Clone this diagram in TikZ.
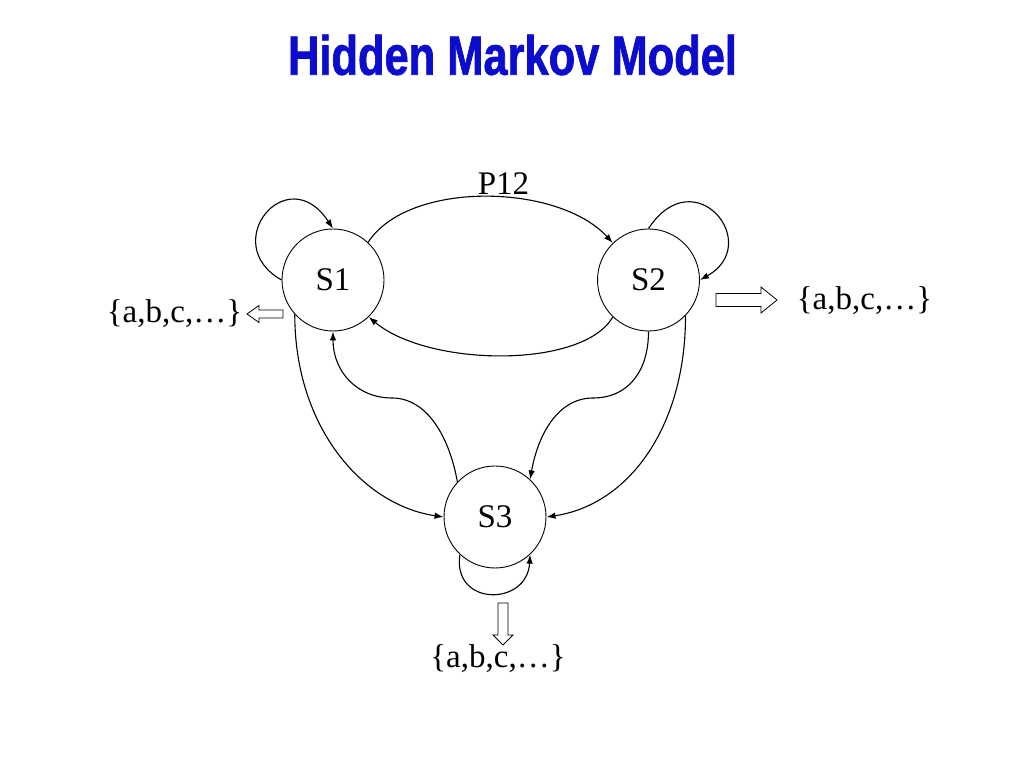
\documentclass[tikz,border=0pt]{standalone}
\usepackage{fontspec}
\usepackage{graphicx}
\setmainfont{Liberation Serif}
\newfontfamily\titlefont{Liberation Sans}[BoldFeatures={FakeBold=1.5}]
\usetikzlibrary{arrows.meta}
\definecolor{titleblue}{RGB}{12,12,204}
\begin{document}
\begin{tikzpicture}[x=1pt,y=1pt,
  state/.style={circle,draw,line width=0.9pt,minimum size=102pt,inner sep=0pt,font=\fontsize{33}{40}\selectfont},
  lbl/.style={font=\fontsize{33}{40}\selectfont,inner sep=0pt,anchor=base},
  conn/.style={line width=1.1pt,-{Latex[length=9pt,width=6.5pt]}},
  blockarrow/.style={draw,line width=0.8pt,fill=white}]
\useasboundingbox (0,0) rectangle (1024,768);
\node[text=titleblue,inner sep=0pt] (title) at (512.5,713) {\resizebox{449pt}{40pt}{\titlefont\bfseries Hidden Markov Model}};
\node[state] (S1) at (333,488) {S1};
\node[state] (S2) at (648.5,488) {S2};
\node[state] (S3) at (495,251) {S3};
\node[lbl] (p12) at (503.5,573) {P12};
\node[lbl] (o1) at (174.5,445) {\{a,b,c,…\}};
\node[lbl] (o2) at (864.5,458) {\{a,b,c,…\}};
\node[lbl] (o3) at (498,101) {\{a,b,c,…\}};
\coordinate (m1) at (392,370);
\coordinate (m2) at (593,370);
% self loops
\draw[conn] (S1.west) .. controls +(-64,36) and +(-46,70) .. (S1.north);
\draw[conn] (S2.north) .. controls +(46,70) and +(64,36) .. (S2.east);
\draw[conn] (S3.227) .. controls +(-8,-52) and +(-3,-52) .. (S3.313);
% S1 <-> S2
\draw[conn] (S1.47) .. controls +(40,62) and +(-55,60) .. (S2.134);
\draw[conn] (S2.226) .. controls +(-30,-52) and +(60,-50) .. (S1.314);
% outer arcs to S3
\draw[conn] (S1.222) .. controls +(0,-113) and +(-81,12) .. (S3.west);
\draw[conn] (S2.316) .. controls +(0,-113) and +(81,12) .. (S3.east);
% inner S-curves
\draw[conn] (S3.137) .. controls +(-8,45) and +(35,0) .. (m1) .. controls +(-35,0) and +(0,-40) .. (S1.south);
\draw[conn] (S2.south) .. controls +(0,-40) and +(35,0) .. (m2) .. controls +(-35,0) and +(8,45) .. (S3.47);
% block arrows
\draw[blockarrow] (283,450) -- (259,450) -- (259,445.5) -- (247,454) -- (259,462.5) -- (259,458) -- (283,458) -- cycle;
\draw[blockarrow] (716,461.5) -- (761,461.5) -- (761,455) -- (777,468) -- (761,481) -- (761,474.5) -- (716,474.5) -- cycle;
\draw[blockarrow] (498,165) -- (498,133) -- (493,133) -- (503,123) -- (513,133) -- (508,133) -- (508,165) -- cycle;
\end{tikzpicture}
\end{document}
